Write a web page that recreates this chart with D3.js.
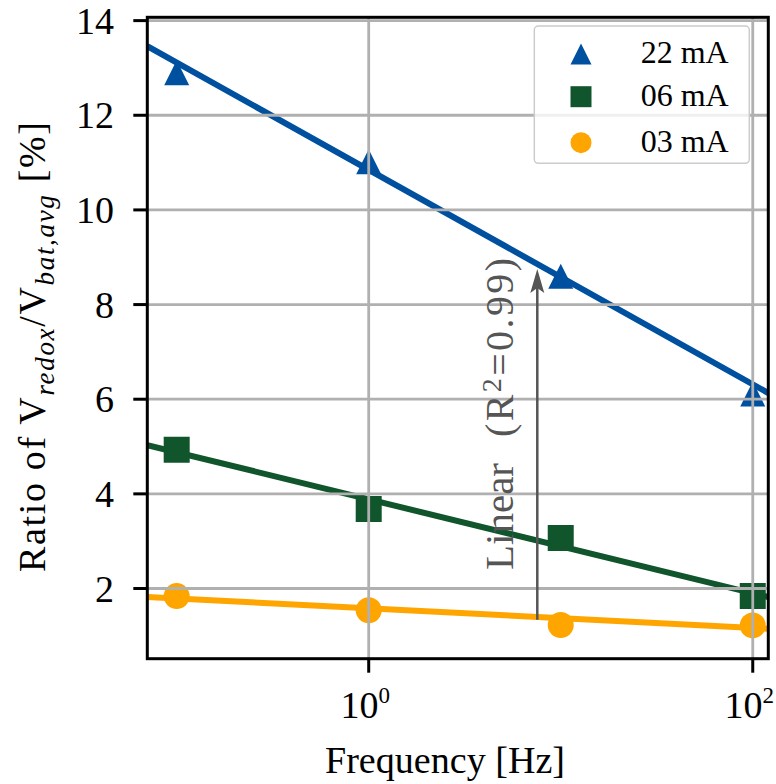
<!DOCTYPE html>
<html>
<head>
<meta charset="utf-8">
<script src="https://cdn.jsdelivr.net/npm/d3@7"></script>
</head>
<body style="margin:0;background:#fff">
<svg id="chart" width="776" height="784"></svg>
<script>
// ---- data ----
const freq = [0.1, 1, 10, 100];
const ratio22 = [12.9, 11.02, 8.6, 6.11];
const ratio06 = [4.93, 3.68, 3.07, 1.84];
const ratio03 = [1.84, 1.54, 1.23, 1.22];
const seriesNames = ["22 mA", "06 mA", "03 mA"];
const seriesColors = ["#0050A0", "#10552C", "#FFA500"];
const seriesShapes = ["triangle", "square", "circle"];
// linear fits (in log frequency) endpoints as drawn
const fitFreq = [0.0703, 120.5];
const fit22 = [13.46, 6.13];
const fit06 = [5.03, 1.82];
const fit03 = [1.82, 1.15];
// axes
const xLimits = [0.0703, 120.5];
const yLimits = [0.517, 14.07];
const yTicks = [2, 4, 6, 8, 10, 12, 14];
const xTicks = [1, 100];
const xTickExps = ["0", "2"];
// annotation
const arrowFreq = 7.55;
const arrowRange = [1.34, 8.75];
const annotFreq = 5.64;

const svg = d3.select("#chart");
const L = 147.3, R = 768.3, T = 17.3, B = 658.7;
const x = d3.scaleLog().domain(xLimits).range([L, R]);
const y = d3.scaleLinear().domain(yLimits).range([B, T]);

svg.append("defs").append("clipPath").attr("id", "clip")
  .append("rect").attr("x", L).attr("y", T).attr("width", R - L).attr("height", B - T);

const plot = svg.append("g").attr("clip-path", "url(#clip)");

const series = [ratio22, ratio06, ratio03];
const fits = [fit22, fit06, fit03];

const line = d3.line().x(d => x(d[0])).y(d => y(d[1]));
fits.forEach((f, i) => {
  plot.append("path")
    .attr("d", line(fitFreq.map((fx, j) => [fx, f[j]])))
    .attr("fill", "none").attr("stroke", seriesColors[i]).attr("stroke-width", 6);
});

function markerPath(shape, s) {
  const h = s / 2;
  if (shape === "triangle") return `M0,${-h}L${h},${h}L${-h},${h}Z`;
  if (shape === "square") return `M${-h},${-h}H${h}V${h}H${-h}Z`;
  const p = d3.path(); p.arc(0, 0, h, 0, 2 * Math.PI); return p.toString();
}

series.forEach((vals, i) => {
  plot.selectAll(null).data(vals).enter().append("path")
    .attr("d", markerPath(seriesShapes[i], seriesShapes[i] === "triangle" ? 25 : 26))
    .attr("transform", (d, j) => `translate(${x(freq[j])},${y(d)})`)
    .attr("fill", seriesColors[i]);
});

// grid (above data as in reference)
const grid = svg.append("g").attr("stroke", "#b0b0b0").attr("stroke-width", 2.8);
yTicks.forEach(v => grid.append("line").attr("x1", L).attr("x2", R).attr("y1", y(v)).attr("y2", y(v)));
xTicks.forEach(v => grid.append("line").attr("x1", x(v)).attr("x2", x(v)).attr("y1", T).attr("y2", B));

function txt(sel, size) {
  return sel.append("text").attr("font-size", size).style("font-family", "'Liberation Serif'");
}

// annotation arrow and text
const ax = x(arrowFreq), ay0 = y(arrowRange[0]), ay1 = y(arrowRange[1]);
svg.append("line").attr("x1", ax).attr("x2", ax).attr("y1", ay0).attr("y2", ay1 + 15)
  .attr("stroke", "#555").attr("stroke-width", 2.5);
svg.append("path")
  .attr("d", `M${ax},${ay1}L${ax - 7},${ay1 + 24}L${ax},${ay1 + 19}L${ax + 7},${ay1 + 24}Z`)
  .attr("fill", "#555");
const tx = x(annotFreq);
txt(svg, 40).attr("transform", `translate(${tx},570) rotate(-90)`)
  .attr("fill", "#555")
  .attr("textLength", 107).attr("lengthAdjust", "spacingAndGlyphs")
  .text("Linear");
const t2 = txt(svg, 40).attr("transform", `translate(${tx},437) rotate(-90)`)
  .attr("fill", "#555")
  .attr("textLength", 179).attr("lengthAdjust", "spacing");
t2.append("tspan").text("(R");
t2.append("tspan").attr("font-size", 28).attr("dy", -12).text("2");
t2.append("tspan").attr("dy", 12).text("=0.99)");

// legend
const lg = svg.append("g");
lg.append("rect").attr("x", 534.3).attr("y", 26).attr("width", 215).attr("height", 137.3)
  .attr("rx", 4).attr("fill", "#fff").attr("fill-opacity", 0.8)
  .attr("stroke", "#cccccc").attr("stroke-width", 1.5);
const legY = [54, 96.7, 142.7];
seriesNames.forEach((n, i) => {
  lg.append("path").attr("d", markerPath(seriesShapes[i], 21))
    .attr("transform", `translate(581,${legY[i]})`).attr("fill", seriesColors[i]);
  txt(lg, 32).attr("x", 640.7).attr("y", legY[i] + 9).attr("fill", "#000").text(n);
});

// spines
svg.append("rect").attr("x", L).attr("y", T).attr("width", R - L).attr("height", B - T)
  .attr("fill", "none").attr("stroke", "#000").attr("stroke-width", 3);

// y axis
const yAxis = svg.append("g");
yTicks.forEach(v => {
  yAxis.append("line").attr("x1", L - 14).attr("x2", L).attr("y1", y(v)).attr("y2", y(v))
    .attr("stroke", "#000").attr("stroke-width", 3);
  txt(yAxis, 38).attr("x", 114).attr("y", y(v) + 13).attr("text-anchor", "end")
    .attr("fill", "#000").text(String(v));
});

// x axis
const xAxis = svg.append("g");
xTicks.forEach((v, i) => {
  xAxis.append("line").attr("x1", x(v)).attr("x2", x(v)).attr("y1", B).attr("y2", B + 14)
    .attr("stroke", "#000").attr("stroke-width", 3);
  const t = txt(xAxis, 38).attr("x", x(v) - 3.5).attr("y", 718)
    .attr("text-anchor", "middle").attr("fill", "#000");
  t.append("tspan").text("10");
  t.append("tspan").attr("font-size", 23).attr("dy", -15).text(xTickExps[i]);
});

// axis labels
txt(svg, 38).attr("x", 445).attr("y", 773).attr("text-anchor", "middle").attr("fill", "#000")
  .attr("textLength", 240).attr("lengthAdjust", "spacingAndGlyphs")
  .text("Frequency [Hz]");

const yl = txt(svg, 38).attr("transform", "translate(45,572) rotate(-90)").attr("fill", "#000")
  .attr("textLength", 450).attr("lengthAdjust", "spacing");
yl.append("tspan").text("Ratio of V");
yl.append("tspan").attr("font-size", 27).attr("font-style", "italic").attr("dy", 9).text("redox");
yl.append("tspan").attr("dy", -9).text("/V");
yl.append("tspan").attr("font-size", 27).attr("font-style", "italic").attr("dy", 9).text("bat,avg");
yl.append("tspan").attr("dy", -9).text(" [%]");
</script>
</body>
</html>
